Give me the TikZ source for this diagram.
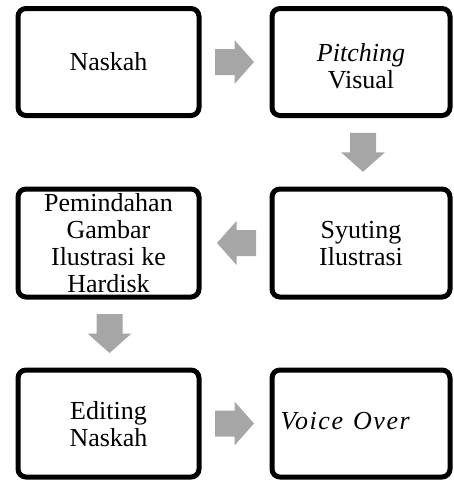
\documentclass[tikz,border=0pt]{standalone}
\usepackage{fontspec}
\setmainfont{Liberation Serif}
\usetikzlibrary{calc}
\definecolor{arrowgray}{RGB}{166,166,166}
\tikzset{
  x=1pt, y=1pt,
  box/.style={draw=black, line width=5pt, rounded corners=8pt, fill=white,
    minimum height=107pt, inner sep=0pt},
  txt/.style={align=center, inner sep=0pt, font=\fontsize{26}{27}\selectfont},
  blockarrow/.pic={\fill[arrowgray] (-19.5,-13) -- (0,-13) -- (0,-22) -- (19.5,0)
    -- (0,22) -- (0,13) -- (-19.5,13) -- cycle;}
}
\begin{document}
\begin{tikzpicture}
\useasboundingbox (0,0) rectangle (454,-480);
% boxes
\node[box, minimum width=181pt] (b1) at (108.5,-62) {};
\node[box, minimum width=178pt] (b2) at (361,-62) {};
\node[box, minimum width=181pt, minimum height=108pt] (b3) at (108.5,-243) {};
\node[box, minimum width=178pt, minimum height=108pt] (b4) at (361,-243) {};
\node[box, minimum width=181pt] (b5) at (108.5,-423.5) {};
\node[box, minimum width=178pt] (b6) at (361,-423.5) {};
% texts
\node[txt] (t1) at (b1.center) {Naskah};
\node[txt] (t2) at ([yshift=-4.5pt]b2.center) {\textit{Pitching}\\Visual};
\node[txt] (t3) at (b3.center) {Pemindahan\\Gambar\\Ilustrasi ke\\Hardisk};
\node[txt] (t4) at ([yshift=-1pt]b4.center) {Syuting\\Ilustrasi};
\node[txt] (t5) at ([yshift=-1pt]b5.center) {Editing\\Naskah};
\node[txt] (t6) at ([xshift=-15pt,yshift=2.5pt]b6.center)
  {\textit{\addfontfeatures{LetterSpace=6}Voice\hspace{10pt}Over}};
% block arrows between boxes
\pic at ($(b1.east)!0.5!(b2.west)+(-1,0)$) {blockarrow};
\pic[rotate=-90] at ($(b2.south)!0.5!(b4.north)+(2,0)$) {blockarrow};
\pic[rotate=180] at ($(b4.west)!0.5!(b3.east)+(1,0)$) {blockarrow};
\pic[rotate=-90] at ($(b3.south)!0.5!(b5.north)+(1,0)$) {blockarrow};
\pic at ($(b5.east)!0.5!(b6.west)+(-1,0)$) {blockarrow};
\end{tikzpicture}
\end{document}
